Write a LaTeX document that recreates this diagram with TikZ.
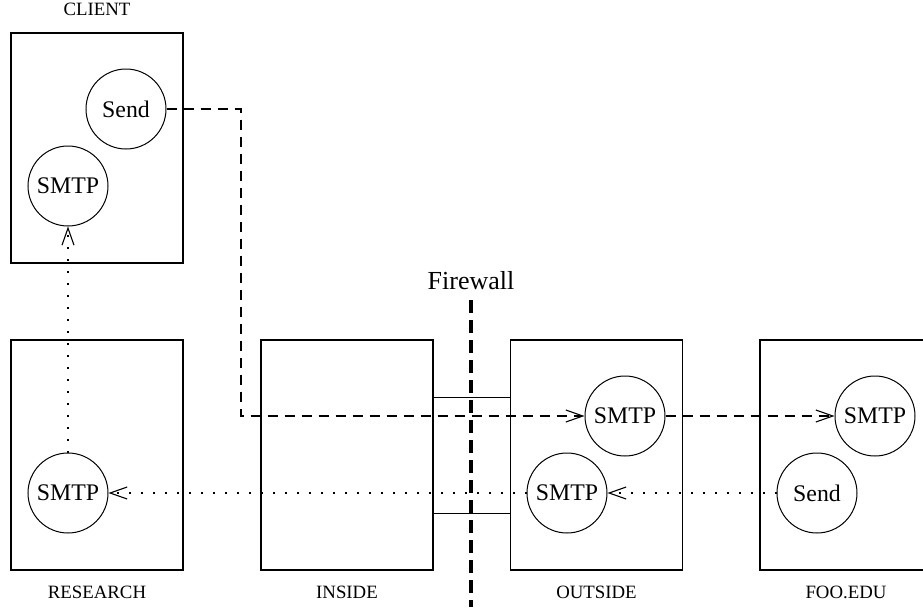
\documentclass[tikz,border=0pt]{standalone}
\usepackage{fontspec}
\setmainfont{Liberation Serif}
\usetikzlibrary{
  positioning,
  calc,
  arrows.meta}
\tikzset{
  %% host : a machine on the network
  host/.style={
    rectangle,
    draw=black,
    line width=0.65pt,
    minimum width=86pt,
    minimum height=115pt
  },
  %% hostname : the name below (or above) a host
  hostname/.style={
    font=\fontsize{9.4}{11}\selectfont,
    inner sep=0pt
  },
  %% proc : a mail process inside a host
  proc/.style={
    circle,
    draw=black,
    line width=0.5pt,
    minimum size=40pt,
    inner sep=0pt,
    font=\fontsize{11.9}{14}\selectfont
  },
  %% mailflow : outgoing mail
  mailflow/.style={
    line width=0.55pt,
    dash pattern=on 5pt off 3.5pt,
    -{Straight Barb[length=8.5pt,width=6pt]}
  },
  %% replyflow : incoming mail
  replyflow/.style={
    line width=0.55pt,
    dash pattern=on 0.8pt off 5.2pt,
    -{Straight Barb[length=8.5pt,width=6pt]}
  },
  %% firewall : the wall itself
  firewall/.style={line width=2pt, dash pattern=on 6.5pt off 3.5pt}
}

\begin{document}
\begin{tikzpicture}
  [x=0.5pt,
  y=-0.5pt]

  \useasboundingbox (0,0) rectangle (923,607);

  %% Hosts
  \node (client) [host] at (97,148) {};
  \node (research) [host] at (97,455) {};
  \node (inside) [host] at (347,455) {};
  \node (outside) [host] at (596.5,455) {};
  \node (fooedu) [host] at (846,455) {};

  \node [hostname, above=8pt of client] {CLIENT};
  \node [hostname, below=7.5pt of research] {RESEARCH};
  \node [hostname, below=7.5pt of inside] {INSIDE};
  \node [hostname, below=7.5pt of outside] {OUTSIDE};
  \node [hostname, below=7.5pt of fooedu] {FOO.EDU};

  %% Processes
  \node (clientsend) [proc] at (126,109) {Send};
  \node (clientsmtp) [proc] at (68,186) {SMTP};
  \node (researchsmtp) [proc] at (68,493) {SMTP};
  \node (outsmtpin) [proc] at (625,416) {SMTP};
  \node (outsmtpout) [proc] at (567,493) {SMTP};
  \node (foosmtp) [proc] at (875,416) {SMTP};
  \node (foosend) [proc] at (817,493) {Send};

  %% Firewall
  \coordinate (walltop) at (471,300);
  \coordinate (wallbottom) at (471,607);
  \draw [firewall] (walltop) -- (wallbottom);
  \node (firewalllabel) [font=\fontsize{13}{15}\selectfont, inner sep=0pt]
  at (471,281) {Firewall};

  %% Links through the wall
  \draw [line width=0.5pt] ($(inside.east)+(0,-58)$) -- ($(outside.west)+(0,-58)$);
  \draw [line width=0.5pt] ($(inside.east)+(0,58)$) -- ($(outside.west)+(0,58)$);

  %% Outgoing mail
  \coordinate (bend) at (241,416);
  \draw [mailflow] (clientsend.east) -| (bend) -- (outsmtpin.west);
  \draw [mailflow] (outsmtpin.east) -- (foosmtp.west);

  %% Incoming mail
  \draw [replyflow] (foosend.west) -- (outsmtpout.east);
  \draw [replyflow] (outsmtpout.west) -- (researchsmtp.east);
  \draw [replyflow] (researchsmtp.north) -- (clientsmtp.south);

\end{tikzpicture}
\end{document}
